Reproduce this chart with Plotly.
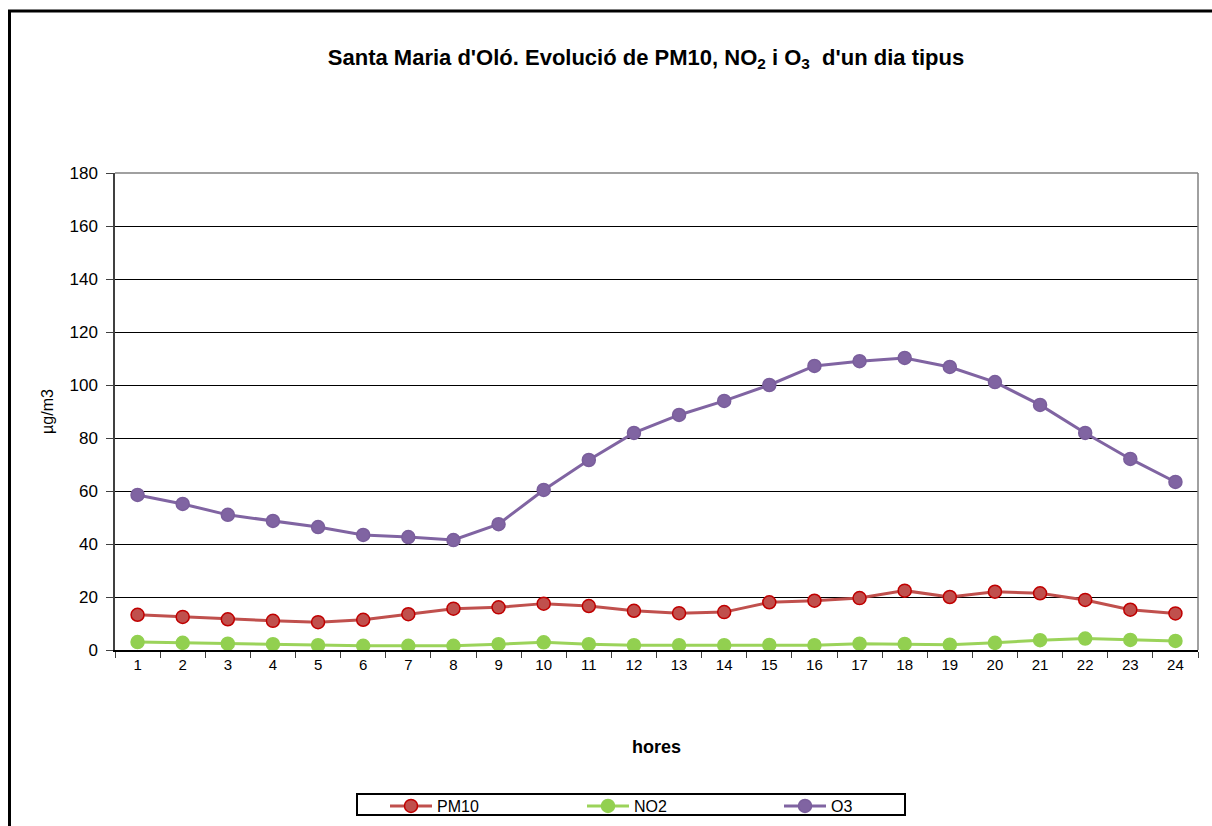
import plotly.graph_objects as go

hours = [str(h) for h in range(1, 25)]
pm10 = [13.3, 12.5, 11.6, 11.0, 10.5, 11.4, 13.5, 15.6, 16.1, 17.5, 16.6, 14.8,
        13.9, 14.3, 18.0, 18.6, 19.6, 22.4, 20.0, 22.0, 21.4, 18.9, 15.2, 13.8]
no2 = [3.0, 2.7, 2.4, 2.2, 1.8, 1.6, 1.6, 1.6, 2.2, 2.9, 2.2, 1.8,
       1.8, 1.8, 1.9, 1.8, 2.4, 2.3, 2.0, 2.7, 3.7, 4.3, 3.8, 3.4]
o3 = [58.5, 55.1, 51.0, 48.7, 46.4, 43.4, 42.6, 41.5, 47.5, 60.4, 71.7, 81.9,
      88.7, 94.0, 100.0, 107.2, 109.0, 110.2, 106.8, 101.1, 92.5, 81.9, 72.1, 63.4]
yticks = [0, 20, 40, 60, 80, 100, 120, 140, 160, 180]

FONT = "Arial, Liberation Sans, sans-serif"
OFF = 0  # body margin removed by post_script
W, H = 1212, 826
L, T = 115 - OFF, 173 - OFF
R = W - (1198 - OFF)
B = H - (650 - OFF)
pw, ph = W - L - R, H - T - B

def px(x):  # page px -> paper x
    return (x - OFF - L) / pw

def py(y):  # page px -> paper y
    return (H - B - (y - OFF)) / ph

fig = go.Figure()
series = [
    ("PM10", pm10, "#C0504D", "#C0504D", "#C00000"),
    ("NO2", no2, "#9BD35A", "#92D050", "#92D050"),
    ("O3", o3, "#8064A2", "#8064A2", "#7A5E9C"),
]
for name, vals, lc, mf, mb in series:
    fig.add_trace(go.Scatter(
        x=hours, y=vals, name=name, mode="lines+markers",
        line=dict(color=lc, width=3),
        marker=dict(size=13, color=mf, line=dict(color=mb, width=1.5)),
    ))

fig.update_layout(
    width=W, height=H,
    margin=dict(l=L, r=R, t=T, b=B, autoexpand=False),
    paper_bgcolor="white", plot_bgcolor="white",
    font=dict(family=FONT, size=15, color="black"),
    showlegend=True,
    title=dict(
        text="<b>Santa Maria d'Oló. Evolució de PM10, NO<sub>2</sub> i O<sub>3</sub>  d'un dia tipus</b>",
        x=(646 - OFF) / W, xanchor="center", y=1 - (57 - OFF) / H, yanchor="middle",
        font=dict(family=FONT, size=22, color="black"),
    ),
    xaxis=dict(
        type="category", categoryorder="array", categoryarray=hours,
        range=[-0.5, 23.5],
        tickmode="array", tickvals=hours, ticktext=hours,
        tickson="boundaries", ticks="outside", ticklen=6, tickcolor="#404040",
        showline=True, linecolor="black", linewidth=1.5, mirror=False,
        showgrid=False, zeroline=False,
        tickfont=dict(family=FONT, size=15),
        title=dict(text="<b>hores</b>", font=dict(family=FONT, size=18), standoff=69),
    ),
    yaxis=dict(
        range=[0, 180], tickmode="array", tickvals=yticks,
        ticks="outside", ticklen=7, tickcolor="#404040",
        ticklabelstandoff=5,
        showline=True, linecolor="#404040", linewidth=1.5,
        showgrid=True, gridcolor="black", gridwidth=1, zeroline=False,
        tickfont=dict(family=FONT, size=17),
        title=dict(text="µg/m3", font=dict(family=FONT, size=16), standoff=12),
    ),
    legend=dict(
        orientation="h", x=px(385), xanchor="left", y=py(789), yanchor="top",
        borderwidth=0, bgcolor="rgba(0,0,0,0)",
        font=dict(family=FONT, size=16),
        itemwidth=42,
        entrywidth=140, entrywidthmode="pixels",
    ),
    shapes=[
        dict(type="line", xref="paper", yref="paper", x0=0, x1=1, y0=1, y1=1,
             line=dict(color="#808080", width=1.5)),
        dict(type="line", xref="paper", yref="paper", x0=1, x1=1, y0=0, y1=1,
             line=dict(color="#808080", width=1.5)),
        # legend frame
        dict(type="rect", xref="paper", yref="paper",
             x0=px(357), x1=px(905), y0=py(815), y1=py(794),
             line=dict(color="black", width=2), layer="above"),
        # outer chart border
        dict(type="rect", xref="paper", yref="paper",
             x0=px(9.5), x1=px(1212 + 40), y0=py(826 + 40), y1=py(11),
             line=dict(color="black", width=3), layer="below"),
    ],
)

fig.write_html(
    "out.html",
    config={"displayModeBar": False},
    post_script="document.body.style.margin='0';document.body.style.overflow='hidden';",
)
